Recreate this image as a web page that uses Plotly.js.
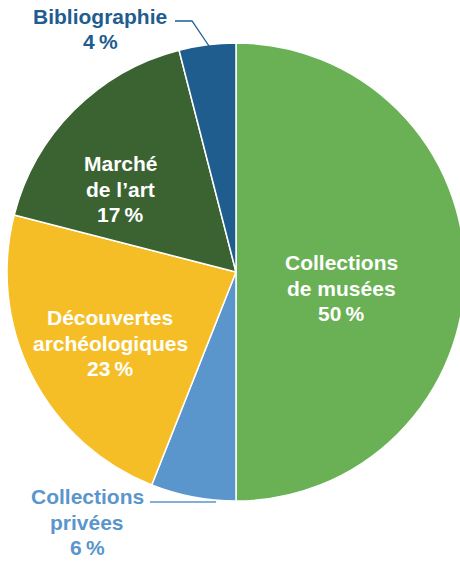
<!DOCTYPE html>
<html>
<head>
<meta charset="utf-8">
<script src="https://cdn.plot.ly/plotly-3.0.1.min.js"></script>
<style>
  html, body { margin: 0; padding: 0; overflow: hidden; background: #fff; }
  #chart { width: 472px; height: 561px; }
</style>
</head>
<body>
<div id="chart"></div>
<script>
// Data
const categories = ["Collections de musées", "Collections privées", "Découvertes archéologiques", "Marché de l’art", "Bibliographie"];
const labelLines = [["Collections", "de musées"], ["Collections", "privées"], ["Découvertes", "archéologiques"], ["Marché", "de l’art"], ["Bibliographie"]];
const values = [50, 6, 23, 17, 4];
const colors = ["#6AB155", "#5A96CB", "#F6BE26", "#3A6331", "#1F5D8F"];

const W = 472, H = 561;
const px = (x) => x / W;
const py = (y) => 1 - y / H;

// label block centres (pixels); inside labels white, outside labels in slice colour
const labelPos = [
  {x: 341, y: 288, inside: true},
  {x: 87, y: 522, inside: false},
  {x: 110, y: 343, inside: true},
  {x: 121, y: 189, inside: true},
  {x: 100, y: 29, inside: false}
];
const LINE = 25.8;

const annotations = [];
categories.forEach((c, i) => {
  const lines = labelLines[i].concat([values[i] + "\u202F%"]);
  const n = lines.length;
  lines.forEach((t, k) => {
    annotations.push({
      text: t,
      x: px(labelPos[i].x), y: py(labelPos[i].y + (k - (n - 1) / 2) * LINE),
      xref: "paper", yref: "paper",
      xanchor: "center", yanchor: "middle",
      showarrow: false,
      font: {family: "Liberation Sans, Arial, sans-serif", size: 21, color: labelPos[i].inside ? "#ffffff" : colors[i], weight: "bold"}
    });
  });
});

const shapes = [
  {type: "path", xref: "paper", yref: "paper",
   path: `M ${px(175)} ${py(21)} L ${px(192)} ${py(21)} L ${px(209)} ${py(46)}`,
   line: {color: colors[4], width: 1.3}},
  {type: "path", xref: "paper", yref: "paper",
   path: `M ${px(150)} ${py(502)} L ${px(216)} ${py(502)}`,
   line: {color: colors[1], width: 1.3}}
];

const trace = {
  type: "pie",
  labels: categories,
  values: values,
  marker: {colors: colors, line: {color: "#ffffff", width: 1.5}},
  sort: false,
  direction: "clockwise",
  rotation: 0,
  textinfo: "none",
  hoverinfo: "label+percent",
  domain: {x: [0, 1], y: [py(501), py(43)]},
  showlegend: false
};

const layout = {
  width: W, height: H,
  margin: {l: 0, r: 0, t: 0, b: 0},
  paper_bgcolor: "#ffffff",
  plot_bgcolor: "#ffffff",
  showlegend: false,
  annotations: annotations,
  shapes: shapes
};

Plotly.newPlot("chart", [trace], layout, {displayModeBar: false, staticPlot: true});
</script>
</body>
</html>
